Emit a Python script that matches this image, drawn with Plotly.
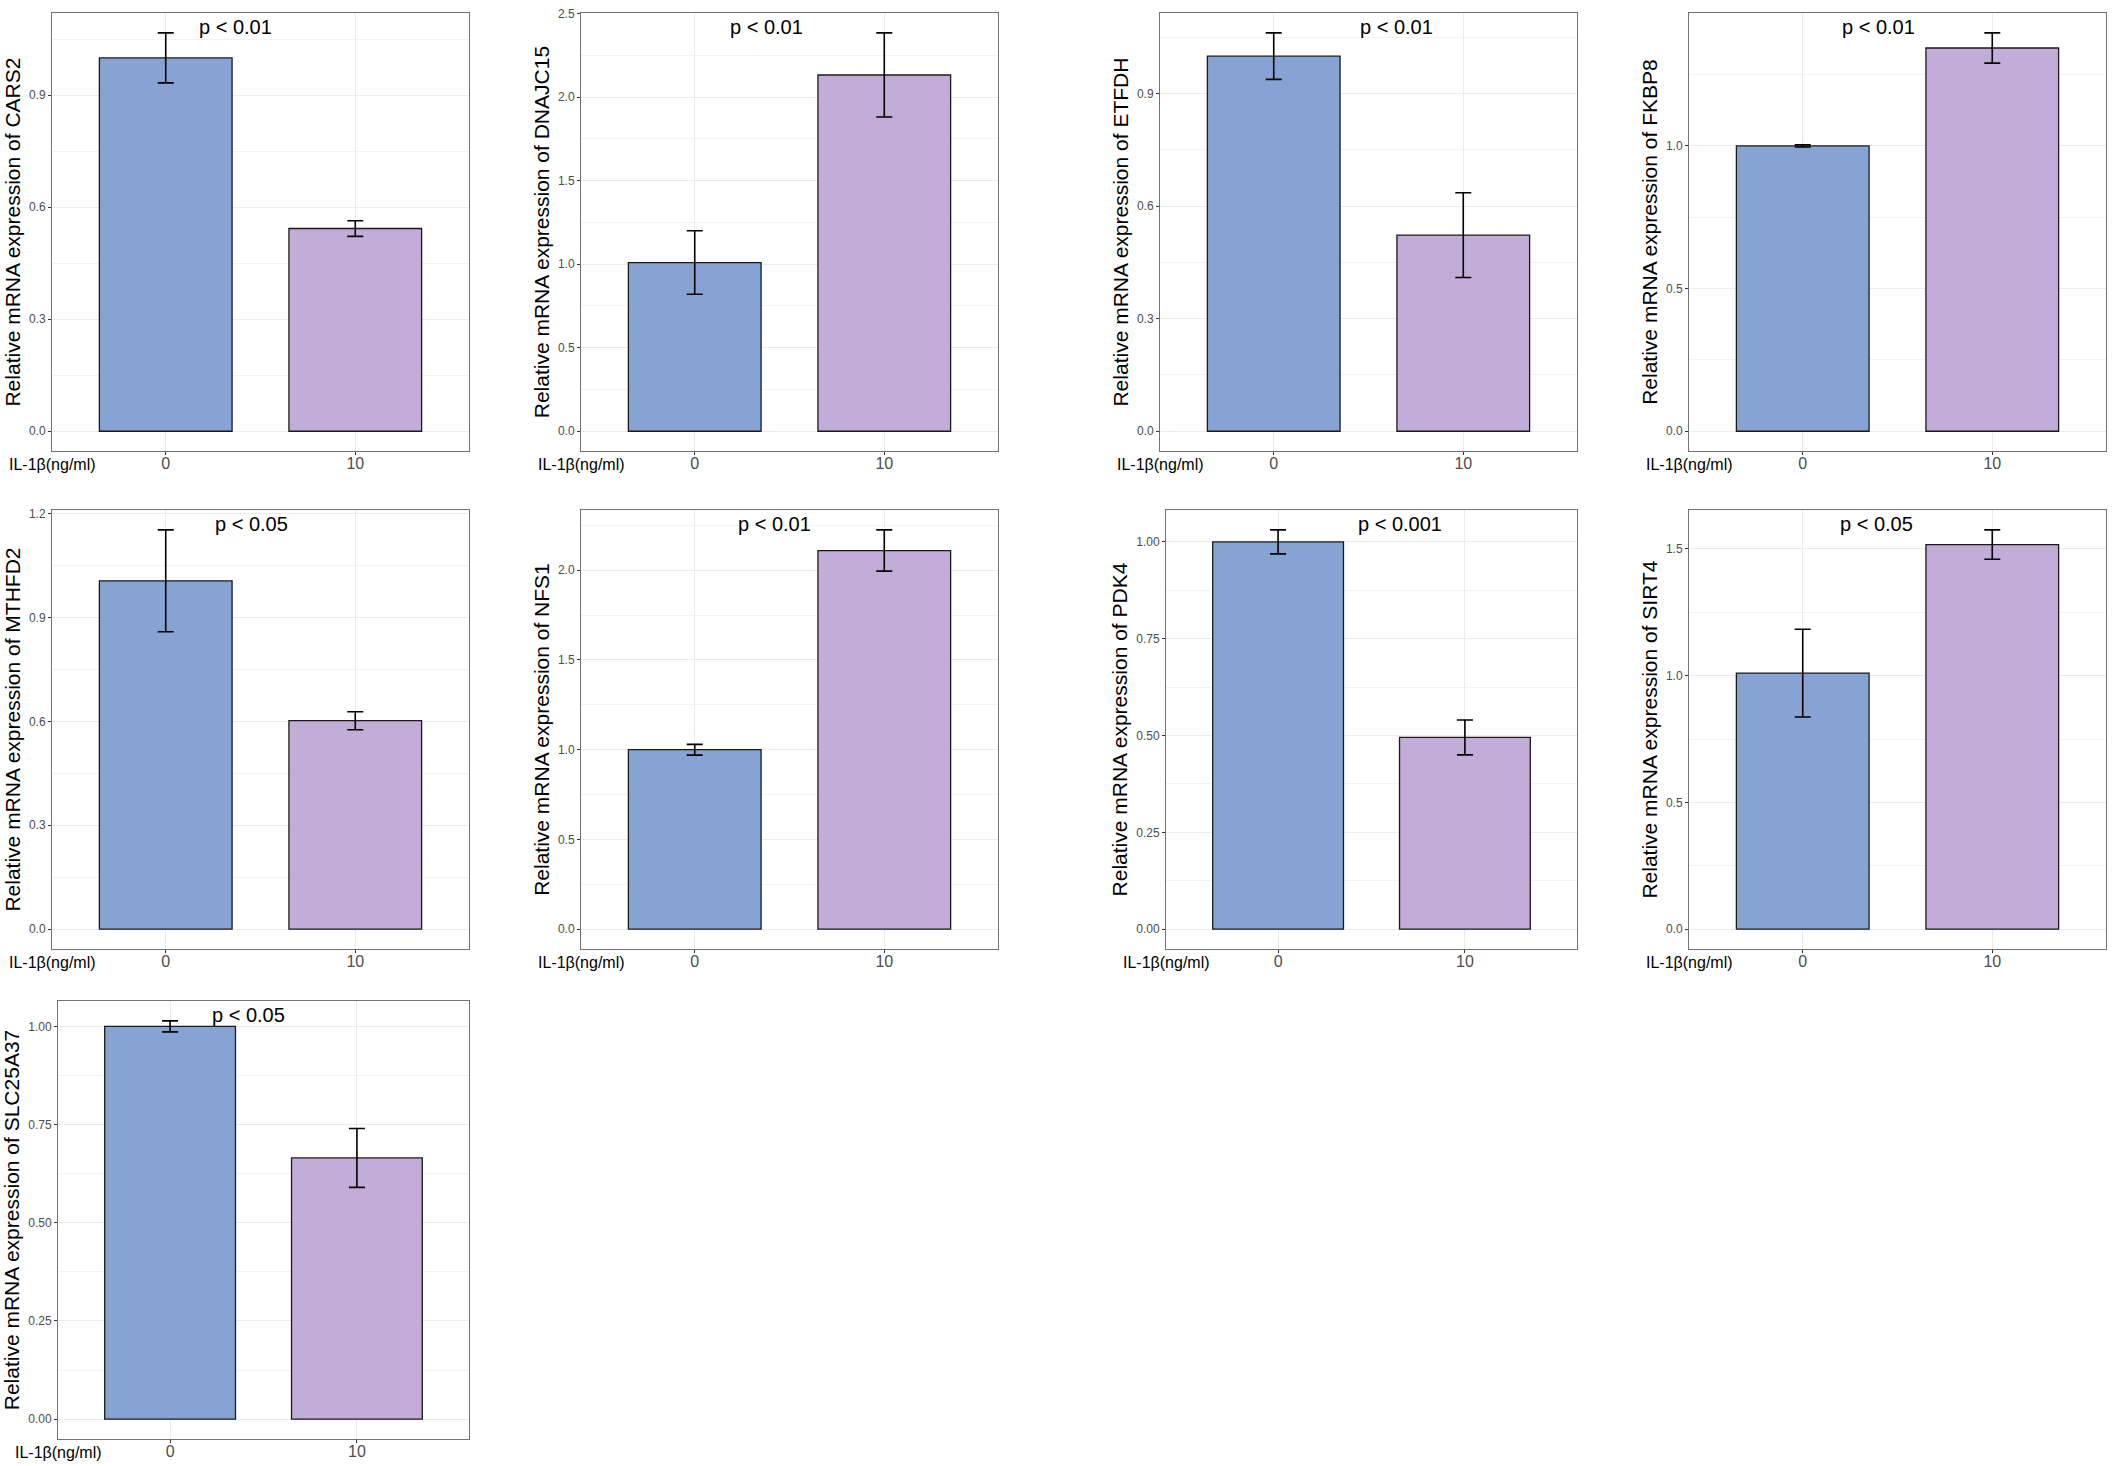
import plotly.graph_objects as go

# qPCR results: relative mRNA expression after IL-1beta treatment
genes = ["CARS2", "DNAJC15", "ETFDH", "FKBP8", "MTHFD2",
         "NFS1", "PDK4", "SIRT4", "SLC25A37"]
doses = ["0", "10"]

mean_0 = [1.000, 1.010, 1.000, 1.000, 1.006, 1.000, 1.000, 1.010, 1.000]
sd_0 = [0.067, 0.190, 0.062, 0.004, 0.147, 0.030, 0.031, 0.173, 0.014]
mean_10 = [0.543, 2.133, 0.523, 1.343, 0.602, 2.110, 0.495, 1.517, 0.665]
sd_10 = [0.021, 0.252, 0.113, 0.053, 0.026, 0.115, 0.045, 0.058, 0.075]

p_labels = ["p < 0.01", "p < 0.01", "p < 0.01", "p < 0.01", "p < 0.05",
            "p < 0.01", "p < 0.001", "p < 0.05", "p < 0.05"]
y_dtick = [0.3, 0.5, 0.3, 0.5, 0.3, 0.5, 0.25, 0.5, 0.25]

# layout bits: pixel boxes of each panel on the page (left, right, top, bottom)
W, H = 2114, 1466
boxes = [
    (52, 469, 7, 447), (581, 998, 7, 447), (1160, 1577, 7, 447), (1689, 2106, 7, 447),
    (52, 469, 506, 947), (581, 998, 506, 947), (1166, 1577, 506, 947), (1689, 2106, 506, 947),
    (58, 469, 999, 1439),
]
# horizontal spot of the p-value text, in category units (0 = first bar)
p_xpos = [0.37, 0.38, 0.65, 0.40, 0.45, 0.42, 0.65, 0.39, 0.42]

BLUE = "#87A3D3"
PURPLE = "#C2ACD8"
FONT = "Liberation Sans, Arial, sans-serif"
GRID = "#EBEBEB"


def px_x(px):
    return px / W


def px_y(px):
    return 1 - px / H


fig = go.Figure()
layout = {}
annotations = []

for i, gene in enumerate(genes):
    k = i + 1
    xa = "x" if k == 1 else f"x{k}"
    ya = "y" if k == 1 else f"y{k}"
    left, right, top, bottom = boxes[i]

    fig.add_trace(go.Bar(
        x=doses,
        y=[mean_0[i], mean_10[i]],
        error_y=dict(type="data", array=[sd_0[i], sd_10[i]],
                     color="black", thickness=1.6, width=8),
        marker=dict(color=[BLUE, PURPLE], line=dict(color="#1a1a1a", width=1.3)),
        width=0.7,
        xaxis=xa, yaxis=ya,
        showlegend=False,
    ))

    # ggplot style 5% expansion around [0, max(mean + sd)]
    hi = max(mean_0[i] + sd_0[i], mean_10[i] + sd_10[i])
    dt = y_dtick[i]

    layout["xaxis" if k == 1 else f"xaxis{k}"] = dict(
        domain=[px_x(left), px_x(right)],
        anchor=ya,
        type="category",
        range=[-0.6, 1.6],
        showgrid=True, gridcolor=GRID, gridwidth=1,
        showline=True, mirror=True, linecolor="#737373", linewidth=1,
        ticks="outside", ticklen=3, tickcolor="#333333",
        tickfont=dict(size=16, color="#4D4D4D", family=FONT),
        ticklabelstandoff=-5,
        zeroline=False,
    )
    layout["yaxis" if k == 1 else f"yaxis{k}"] = dict(
        domain=[px_y(bottom), px_y(top)],
        anchor=xa,
        range=[-0.05 * hi, 1.05 * hi],
        tick0=0, dtick=dt,
        tickformat=".2f" if dt == 0.25 else ".1f",
        showgrid=True, gridcolor=GRID, gridwidth=1,
        minor=dict(dtick=dt / 2, showgrid=True, gridcolor="#F3F3F3", gridwidth=0.8),
        showline=True, mirror=True, linecolor="#737373", linewidth=1,
        ticks="outside", ticklen=3, tickcolor="#333333",
        tickfont=dict(size=12, color="#4D4D4D", family=FONT),
        zeroline=False,
        title=dict(text=f"Relative mRNA expression of {gene}",
                   font=dict(size=21, color="black", family=FONT), standoff=2),
    )

    annotations.append(dict(
        text=p_labels[i], xref=xa, yref=f"{ya} domain",
        x=p_xpos[i], y=1 - 14 / (bottom - top),
        xanchor="center", yanchor="middle", showarrow=False,
        font=dict(size=20, color="black", family=FONT),
    ))
    # x-axis title sits on the tick-label line, flush left
    annotations.append(dict(
        text="IL-1β(ng/ml)", xref="paper", yref="paper",
        x=px_x(left - 45), y=px_y(bottom + 13),
        xanchor="left", yanchor="middle", showarrow=False,
        font=dict(size=16, color="black", family=FONT),
    ))

fig.update_layout(
    **layout,
    annotations=annotations,
    width=W, height=H,
    margin=dict(l=0, r=0, t=0, b=0),
    paper_bgcolor="white",
    plot_bgcolor="white",
    font=dict(family=FONT),
    bargap=0.3,
)

# drop the page's default body margin so the figure sits at the window corner
fig.write_html("out.html", config={"displayModeBar": False},
               post_script="document.body.style.margin = '0';")
